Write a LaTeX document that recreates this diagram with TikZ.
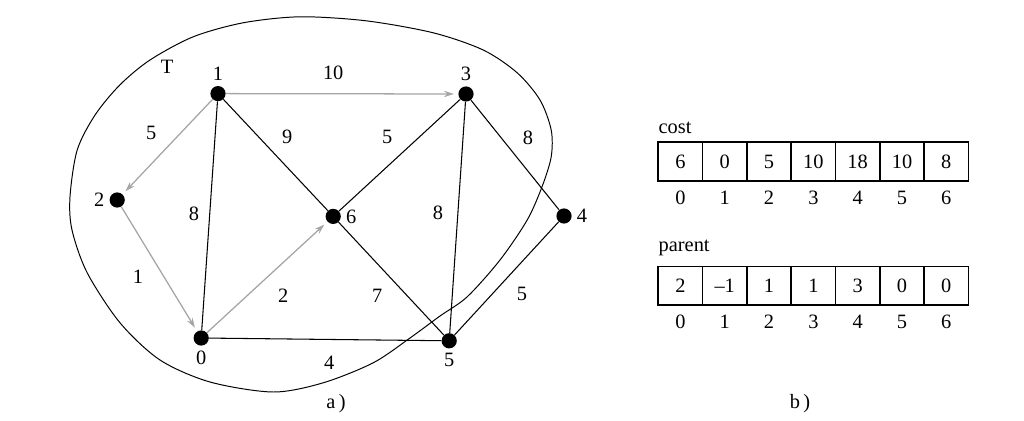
\documentclass[tikz,border=0pt]{standalone}
\usepackage{fontspec}
\setmainfont{Liberation Serif}
\usepackage{tikz}
\usetikzlibrary{positioning, arrows.meta}
\definecolor{treeGray}{RGB}{165, 165, 165}
\newcommand{\figfont}{\fontsize{14.5}{17}\selectfont}
\tikzset{
  vertex/.style={circle, fill=black, inner sep=0pt, minimum size=0.38cm,
                 label distance=0pt},
  weight/.style={font=\figfont, inner sep=1pt},
  cell/.style={rectangle, draw=black, line width=1.1pt,
               minimum width=1.108cm, minimum height=0.97cm,
               inner sep=0pt, outer sep=0pt, font=\figfont},
  idx/.style={font=\figfont},
  tag/.style={font=\figfont, inner sep=0pt},
  every label/.style={font=\figfont},
}

\begin{document}
\begin{tikzpicture}[
    arrow/.style={-{Stealth[length=7pt, width=4.5pt]}, treeGray, line width=0.9pt, shorten >=3pt},
    edge/.style={line width=0.75pt},
  ]
    \useasboundingbox (0,0) rectangle (25.6,10.5);

    % region T
    \draw[line width=0.7pt] plot[smooth cycle, tension=0.5] coordinates {
      (1.8,4.75) (1.75,5.58) (1.93,6.75) (2.38,7.63) (3.0,8.38) (3.75,9.0)
      (4.83,9.58) (6.08,9.93) (7.5,10.08) (9.15,9.98) (10.83,9.68)
      (12.08,9.25) (12.93,8.68) (13.5,8.0) (13.78,7.25) (13.78,6.58)
      (13.55,5.83) (13.18,5.0) (12.5,4.0) (11.68,3.08) (11.0,2.6)
      (10.25,2.05) (9.33,1.43) (8.08,0.93) (6.83,0.7) (5.25,0.95)
      (4.0,1.5) (3.0,2.43) (2.18,3.68)};
    \node[weight] (T) at (4.18,8.83) {T};

    % vertices
    \node[vertex, label=below:0] (v0) at (5.03,2.05) {};
    \node[vertex, label=above:1] (v1) at (5.45,8.16) {};
    \node[vertex, label=left:2]  (v2) at (2.93,5.5)  {};
    \node[vertex, label=above:3] (v3) at (11.65,8.15) {};
    \node[vertex, label=right:4] (v4) at (14.1,5.1)  {};
    \node[vertex, label=below:5] (v5) at (11.23,1.98) {};
    \node[vertex, label=right:6] (v6) at (8.33,5.09) {};

    % tree edges
    \draw[arrow] (v1) -- (v3);
    \draw[arrow] (v1) -- (v2);
    \draw[arrow] (v2) -- (v0);
    \draw[arrow] (v0) -- (v6);

    % other edges
    \draw[edge] (v1) -- (v0);
    \draw[edge] (v1) -- (v6);
    \draw[edge] (v6) -- (v3);
    \draw[edge] (v3) -- (v5);
    \draw[edge] (v3) -- (v4);
    \draw[edge] (v6) -- (v5);
    \draw[edge] (v4) -- (v5);
    \draw[edge] (v0) -- (v5);

    % weights
    \node[weight] (w13) at (8.33,8.68)  {10};
    \node[weight] (w12) at (3.78,7.18)  {5};
    \node[weight] (w10) at (4.85,5.15)  {8};
    \node[weight] (w16) at (7.18,7.08)  {9};
    \node[weight] (w20) at (3.45,3.58)  {1};
    \node[weight] (w06) at (7.08,3.1)   {2};
    \node[weight] (w65) at (9.43,3.1)   {7};
    \node[weight] (w36) at (9.68,7.08)  {5};
    \node[weight] (w34) at (13.2,7.05)  {8};
    \node[weight] (w35) at (10.95,5.18) {8};
    \node[weight] (w45) at (13.05,3.15) {5};
    \node[weight] (w05) at (8.23,1.43)  {4};

    \node[weight] (capA) at (8.4,0.42) {a\,)};

    % cost and parent arrays
    \node[tag, anchor=base west] (costlbl) at (16.46,7.17) {cost};
    \foreach \v [count=\i from 0] in {6,0,5,10,18,10,8} {
      \node[cell] (c\i) at ({17.01+1.108*\i},6.46) {\v};
      \node[idx, below=0.13cm of c\i] (ci\i) {\i};
    }
    \node[tag, anchor=base west] (parentlbl) at (16.46,4.21) {parent};
    \foreach \v [count=\i from 0] in {2,--1,1,1,3,0,0} {
      \node[cell] (p\i) at ({17.01+1.108*\i},3.355) {\v};
      \node[idx, below=0.13cm of p\i] (pi\i) {\i};
    }

    \node[weight] (capB) at (20.0,0.42) {b\,)};
  \end{tikzpicture}
\end{document}
